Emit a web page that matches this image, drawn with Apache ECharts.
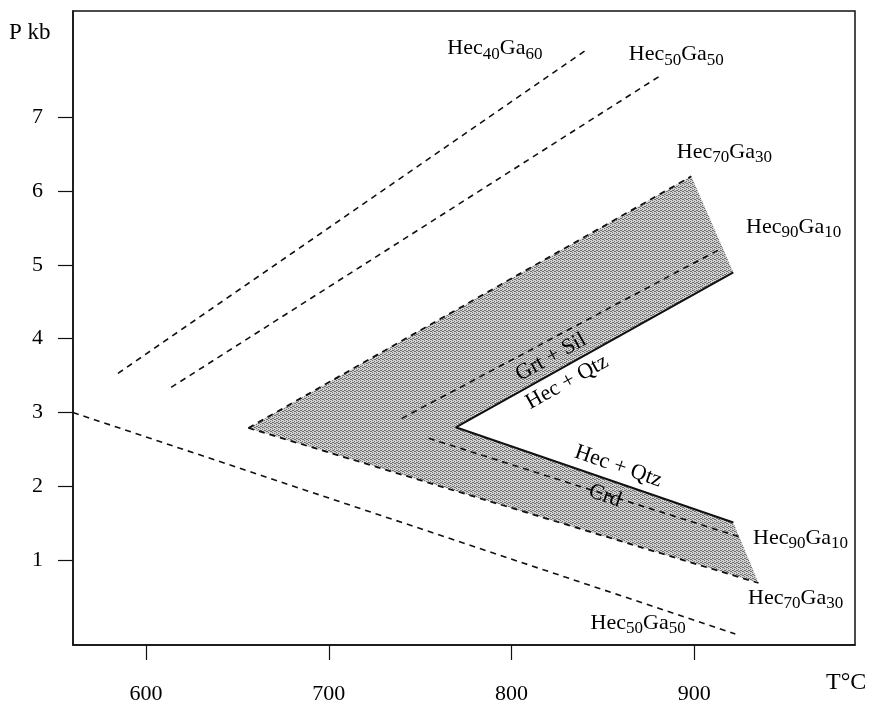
<!DOCTYPE html>
<html>
<head>
<meta charset="utf-8">
<script src="https://cdn.jsdelivr.net/npm/echarts@6/dist/echarts.min.js"></script>
<style>
html, body { margin: 0; background: #fff; }
#chart { width: 871px; height: 709px; }
</style>
</head>
<body>
<div id="chart"></div>
<script>
var xTicks = [600, 700, 800, 900];
var yTicks = [1, 2, 3, 4, 5, 6, 7];

// isopleths, [T degC, P kb]
var hec40ga60 = [[584.6, 3.53], [841.4, 7.92]];
var hec50ga50Upper = [[613.7, 3.34], [882.5, 7.58]];
var hec50ga50Lower = [[560, 3.0], [922.5, 0.0]];
var hec70ga30Upper = [[656, 2.79], [898.4, 6.2]];
var hec70ga30Lower = [[656, 2.79], [935.2, 0.69]];
var grtSil = [[739.9, 2.92], [915.4, 5.23]];
var crd = [[754.7, 2.65], [925.3, 1.31]];
var hecQtz = [[921.4, 4.9], [769.5, 2.8], [921.4, 1.51]];
var field = [[656, 2.79], [898.4, 6.2], [921.4, 4.9], [769.5, 2.8], [921.4, 1.51], [935.2, 0.69]];

// annotations: anchor [T, P], text parts (main, sub, main, sub), rotation
var labels = [
    { at: [790.9, 7.93], parts: ['Hec', '40', 'Ga', '60'], rot: 0 },
    { at: [890.2, 7.85], parts: ['Hec', '50', 'Ga', '50'], rot: 0 },
    { at: [916.5, 6.53], parts: ['Hec', '70', 'Ga', '30'], rot: 0 },
    { at: [954.4, 5.51], parts: ['Hec', '90', 'Ga', '10'], rot: 0 },
    { at: [958.2, 1.30], parts: ['Hec', '90', 'Ga', '10'], rot: 0 },
    { at: [955.5, 0.49], parts: ['Hec', '70', 'Ga', '30'], rot: 0 },
    { at: [869.3, 0.15], parts: ['Hec', '50', 'Ga', '50'], rot: 0 },
    { at: [821.6, 3.75], parts: ['Grt + Sil'], rot: 29 },
    { at: [830.4, 3.41], parts: ['Hec + Qtz'], rot: 29 },
    { at: [858.4, 2.27], parts: ['Hec + Qtz'], rot: -19 },
    { at: [851.2, 1.87], parts: ['Crd'], rot: -19 }
];

var serif = '"Liberation Serif", "DejaVu Serif", serif';

// stipple fill for the shaded field
var pat = document.createElement('canvas');
pat.width = 4;
pat.height = 4;
var pc = pat.getContext('2d');
pc.fillStyle = '#d2d2d2';
pc.fillRect(0, 0, 4, 4);
pc.fillStyle = '#707070';
[[0, 0], [2, 1], [1, 2], [3, 3], [2, 3], [0, 2]].forEach(function (d) {
    pc.fillRect(d[0], d[1], 1, 1);
});

function richText(parts) {
    var s = '';
    parts.forEach(function (p, i) {
        s += (i % 2 === 0 ? '{m|' : '{s|') + p + '}';
    });
    return s;
}

function dashed(data, w) {
    return {
        type: 'line',
        data: data,
        showSymbol: false,
        silent: true,
        lineStyle: { color: '#111', width: w || 1.6, type: [6, 5] }
    };
}

var myChart = echarts.init(document.getElementById('chart'));

var option = {
    animation: false,
    grid: {
        left: 73, right: 16, top: 11, bottom: 64,
        show: true, borderColor: '#111', borderWidth: 1.5
    },
    xAxis: {
        type: 'value',
        min: 560,
        max: 988,
        splitLine: { show: false },
        axisLine: { onZero: false, lineStyle: { color: '#111', width: 1.5 } },
        axisTick: { customValues: xTicks, length: 15, lineStyle: { color: '#111', width: 1.2 } },
        axisLabel: { customValues: xTicks, margin: 38, color: '#000', fontSize: 22, fontFamily: serif }
    },
    yAxis: {
        type: 'value',
        min: -0.15,
        max: 8.44,
        splitLine: { show: false },
        axisLine: { onZero: false, lineStyle: { color: '#111', width: 1.5 } },
        axisTick: { customValues: yTicks, length: 15, lineStyle: { color: '#111', width: 1.2 } },
        axisLabel: { customValues: yTicks, margin: 30, color: '#000', fontSize: 22, fontFamily: serif }
    },
    graphic: [
        { type: 'text', left: 9, top: 21, style: { text: 'P kb', font: '23px ' + serif, fill: '#000' } },
        { type: 'text', left: 826, top: 671, style: { text: 'T\u00b0C', font: '24px ' + serif, fill: '#000' } }
    ],
    series: [
        {
            type: 'custom',
            silent: true,
            data: [0],
            renderItem: function (params, api) {
                return {
                    type: 'polygon',
                    shape: { points: field.map(function (p) { return api.coord(p); }) },
                    style: { fill: { image: pat, repeat: 'repeat' }, stroke: null }
                };
            },
            z: 1
        },
        dashed(hec40ga60),
        dashed(hec50ga50Upper),
        dashed(hec50ga50Lower),
        dashed(hec70ga30Upper, 1.8),
        dashed(hec70ga30Lower, 1.8),
        dashed(grtSil),
        dashed(crd),
        {
            type: 'line',
            data: hecQtz,
            showSymbol: false,
            silent: true,
            lineStyle: { color: '#111', width: 2 }
        },
        {
            type: 'scatter',
            silent: true,
            symbolSize: 1,
            itemStyle: { color: 'rgba(0,0,0,0)', opacity: 1 },
            data: labels.map(function (l) {
                return {
                    value: l.at,
                    text: richText(l.parts),
                    label: { rotate: l.rot }
                };
            }),
            label: {
                show: true,
                position: 'inside',
                color: '#000',
                textBorderWidth: 0,
                formatter: function (p) { return p.data.text; },
                rich: {
                    m: { fontSize: 22, fontFamily: serif, color: '#000', textBorderWidth: 0 },
                    s: { fontSize: 17, fontFamily: serif, color: '#000', textBorderWidth: 0, padding: [11, 0, 0, 0] }
                }
            },
            z: 5
        }
    ]
};

myChart.setOption(option);
window.addEventListener('resize', function () {
    myChart.resize();
});
</script>
</body>
</html>
